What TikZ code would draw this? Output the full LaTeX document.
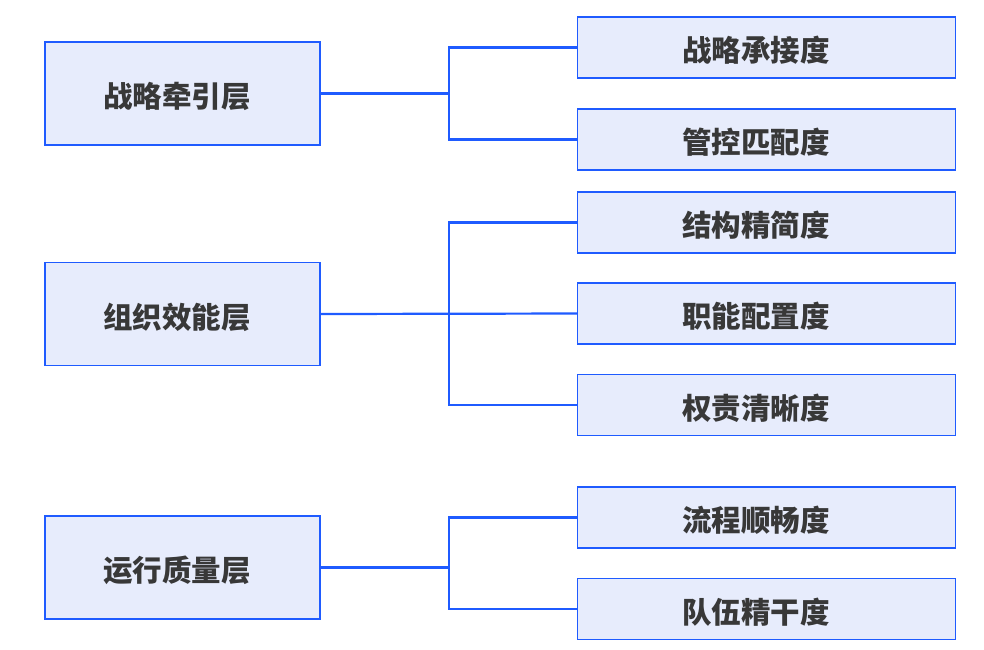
\documentclass[tikz,border=0pt]{standalone}
\usepackage{fontspec}
\usepackage{tikz}
\newfontfamily\cjk{Noto Sans CJK SC}
\definecolor{lineblue}{HTML}{1F5BFF}
\definecolor{boxfill}{HTML}{E7ECFC}
\definecolor{txtgray}{HTML}{383838}
\newcommand{\boxlabel}[2]{\raisebox{-3pt}[\height][\depth]{#2}\kern#1}

\begin{document}
\begin{tikzpicture}[x=1pt, y=-1pt,
    layerbox/.style={draw=lineblue, line width=1.4pt, fill=boxfill, minimum width=275pt, minimum height=103pt, inner sep=0pt, outer sep=0pt, font=\cjk\bfseries\fontsize{29.5}{34}\selectfont, text=txtgray},
    itembox/.style={layerbox, minimum width=378pt, minimum height=61pt},
    link/.style={draw=lineblue, line width=2.2pt}]
    \useasboundingbox (0,0) rectangle (984,649);

    \node[layerbox] (strat) at (182.5, 93.5) {\boxlabel{11pt}{战略牵引层}};
    \node[layerbox] (org) at (182.5, 314) {\boxlabel{11pt}{组织效能层}};
    \node[layerbox] (ops) at (182.5, 567.5) {\boxlabel{11pt}{运行质量层}};

    \node[itembox] (accept) at (766.5, 47.5) {\boxlabel{21pt}{战略承接度}};
    \node[itembox] (control) at (766.5, 139.5) {\boxlabel{21pt}{管控匹配度}};
    \node[itembox] (struct) at (766.5, 222.5) {\boxlabel{21pt}{结构精简度}};
    \node[itembox] (duty) at (766.5, 313.5) {\boxlabel{21pt}{职能配置度}};
    \node[itembox] (power) at (766.5, 405) {\boxlabel{21pt}{权责清晰度}};
    \node[itembox] (flow) at (766.5, 517.5) {\boxlabel{21pt}{流程顺畅度}};
    \node[itembox] (team) at (766.5, 609) {\boxlabel{21pt}{队伍精干度}};

    \draw[link] (strat.east) -- ++(129,0) coordinate (j1);
    \draw[link] (j1) |- (accept.west);
    \draw[link] (j1) |- (control.west);

    \draw[link] (org.east) -- (duty.west);
    \coordinate (j2) at (449, 313.5);
    \draw[link] (j2) |- (struct.west);
    \draw[link] (j2) |- (power.west);

    \draw[link] (ops.east) -- ++(129,0) coordinate (j3);
    \draw[link] (j3) |- (flow.west);
    \draw[link] (j3) |- (team.west);
\end{tikzpicture}
\end{document}
